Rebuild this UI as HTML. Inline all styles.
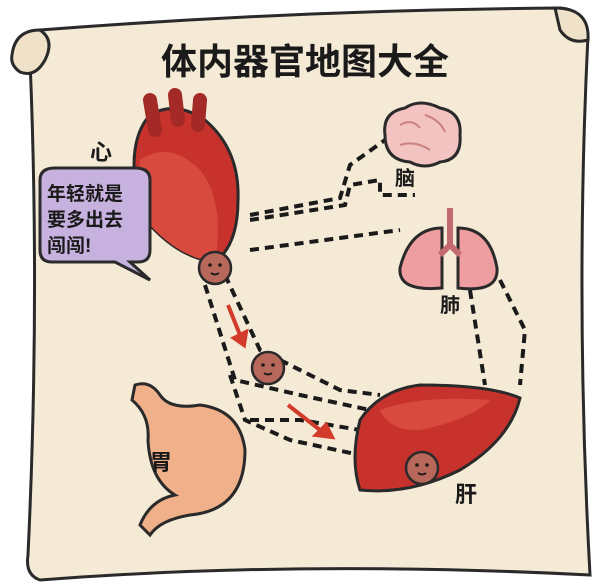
<!DOCTYPE html>
<html><head><meta charset="utf-8"><style>
html,body{margin:0;padding:0;background:#fff;}
svg{display:block}
text{font-family:"Liberation Sans","Noto Sans CJK SC",sans-serif;font-weight:bold;fill:#1a1a1a}
</style></head><body>
<svg width="600" height="588" viewBox="0 0 600 588">
<path d="M40 30 Q300 10 560 8 Q585 10 588 35 Q575 300 590 575 Q300 560 40 580 Q25 575 28 555 Q40 300 30 60 Q20 45 40 30Z" fill="#f5ead6" stroke="#2a2a2a" stroke-width="3"/>
<path d="M12 55 Q15 30 40 30 Q55 40 45 60 Q35 78 20 72 Q10 65 12 55Z" fill="#efe2c8" stroke="#2a2a2a" stroke-width="3"/>
<path d="M555 8 Q590 8 588 40 Q570 45 560 30Z" fill="#efe2c8" stroke="#2a2a2a" stroke-width="3"/>
<text x="305" y="74" font-size="36" text-anchor="middle">体内器官地图大全</text>
<g fill="none" stroke="#1a1a1a" stroke-width="4" stroke-dasharray="9 6">
<path d="M250 215 L340 198 L350 165 L385 140"/>
<path d="M250 250 L400 230"/>
<path d="M250 220 L345 205 L350 185 L380 180 L380 195 L415 195"/>
<path d="M205 285 L235 380 L300 395 L370 410"/>
<path d="M225 275 L260 350 L340 390 L380 395"/>
<path d="M230 375 L245 420 L290 440 L360 455"/>
<path d="M250 420 L300 420 L360 430"/>
<path d="M470 290 L485 385"/>
<path d="M500 280 L525 330 L520 385"/>
</g>
<g stroke="#d23a2a" stroke-width="4" fill="#d23a2a">
<line x1="228" y1="305" x2="240" y2="335"/><polygon points="234,338 246,332 244,345"/>
<line x1="288" y1="405" x2="320" y2="430"/><polygon points="316,435 326,425 332,437"/>
</g>
<!-- heart -->
<path d="M150 115 Q175 100 205 120 Q240 150 238 200 Q238 245 215 262 Q180 258 150 225 Q130 185 135 150 Q138 128 150 115Z" fill="#c8322c" stroke="#2a2a2a" stroke-width="3"/>
<path d="M140 160 Q170 140 200 170 Q225 200 215 262 Q180 258 150 225 Q135 195 140 160Z" fill="#d84a3e"/>
<path d="M155 130 L150 100 M178 120 L175 95 M198 125 L200 100" stroke="#a32a26" stroke-width="14" stroke-linecap="round"/>
<text x="90" y="160" font-size="22">心</text>
<path d="M40 180 Q40 168 55 168 L135 168 Q150 168 150 180 L150 250 Q150 262 138 262 L130 262 L150 280 L115 262 L52 262 Q40 262 40 250Z" fill="#c7b2df" stroke="#2a2a2a" stroke-width="3"/>
<text x="47" y="200" font-size="19">年轻就是</text>
<text x="47" y="226" font-size="19">要多出去</text>
<text x="47" y="252" font-size="19">闯闯!</text>
<!-- brain -->
<path d="M385 135 Q382 112 405 108 Q420 98 440 108 Q462 112 460 135 Q462 160 440 162 Q425 170 410 162 Q385 160 385 135Z" fill="#f2c3c0" stroke="#2a2a2a" stroke-width="3"/>
<path d="M400 125 Q412 118 420 128 M425 115 Q440 120 445 132 M400 145 Q415 140 430 150" fill="none" stroke="#c9807e" stroke-width="2"/>
<text x="395" y="185" font-size="20">脑</text>
<!-- lungs -->
<path d="M442 228 Q410 228 400 268 Q398 292 442 288Z" fill="#ee9ea0" stroke="#2a2a2a" stroke-width="3"/>
<path d="M458 228 Q490 228 497 268 Q499 293 458 288Z" fill="#ee9ea0" stroke="#2a2a2a" stroke-width="3"/>
<path d="M450 208 L450 245 M450 245 L440 255 M450 245 L460 255" stroke="#c46a70" stroke-width="6" fill="none"/>
<text x="440" y="312" font-size="20">肺</text>
<path d="M135 385 Q150 380 160 395 Q170 410 200 405 Q240 410 245 450 Q245 510 190 515 Q160 520 150 535 L140 525 Q150 500 175 495 Q150 480 148 440 Q150 415 132 400Z" fill="#f0b08a" stroke="#2a2a2a" stroke-width="3"/>
<text x="150" y="470" font-size="22">胃</text>
<path d="M360 420 Q380 390 420 385 Q490 385 520 398 Q510 440 460 470 Q410 495 360 490 Q350 460 360 420Z" fill="#c8322c" stroke="#2a2a2a" stroke-width="3"/>
<path d="M380 410 Q420 395 490 400 Q470 420 420 430 Q390 432 380 410Z" fill="#d84a3e"/>
<text x="455" y="502" font-size="22">肝</text>
<g fill="#b8685a" stroke="#2a2a2a" stroke-width="2.5">
<circle cx="215" cy="268" r="16"/>
<circle cx="268" cy="368" r="16"/>
<circle cx="422" cy="468" r="16"/>
</g>
<g fill="#1a1a1a">
<circle cx="210" cy="265" r="1.8"/><circle cx="220" cy="265" r="1.8"/>
<circle cx="263" cy="365" r="1.8"/><circle cx="273" cy="365" r="1.8"/>
<circle cx="417" cy="465" r="1.8"/><circle cx="427" cy="465" r="1.8"/>
</g>
<g stroke="#1a1a1a" stroke-width="2" fill="none">
<path d="M211 273 Q215 276 219 273"/><path d="M264 373 Q268 376 272 373"/><path d="M418 473 Q422 476 426 473"/>
</g>
</svg>
</body></html>
